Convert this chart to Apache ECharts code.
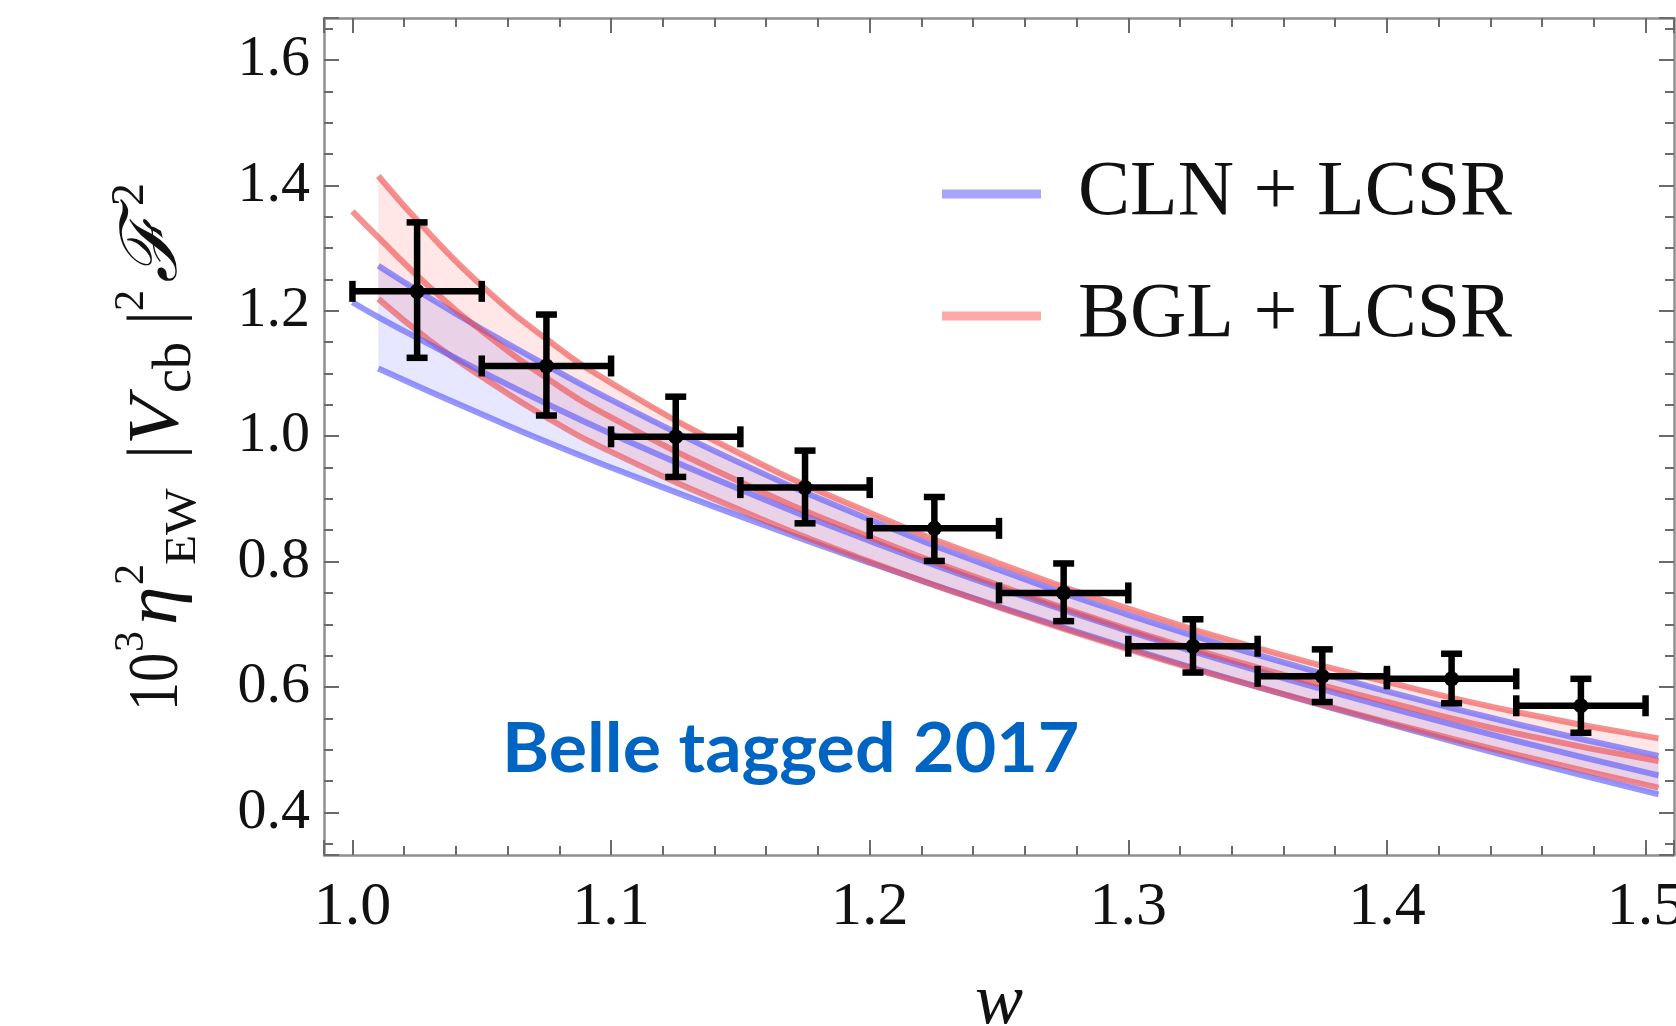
<!DOCTYPE html>
<html>
<head>
<meta charset="utf-8">
<script src="https://cdn.jsdelivr.net/npm/echarts@6/dist/echarts.min.js"></script>
<style>
  html, body { margin: 0; padding: 0; background: #ffffff; }
  #chart { width: 1676px; height: 1026px; }
</style>
</head>
<body>
<div id="chart"></div>
<script>
// Belle tagged 2017: binned measurement, bins of width 0.05 in w
const binEdges   = [1.00, 1.05, 1.10, 1.15, 1.20, 1.25, 1.30, 1.35, 1.40, 1.45, 1.50];
const dataValues = [1.231, 1.112, 0.999, 0.918, 0.853, 0.750, 0.665, 0.617, 0.613, 0.570];
const dataUpper  = [1.341, 1.194, 1.063, 0.977, 0.903, 0.797, 0.708, 0.660, 0.653, 0.613];
const dataLower  = [1.125, 1.033, 0.935, 0.861, 0.801, 0.705, 0.623, 0.576, 0.574, 0.527];

// Fit bands (upper / lower edges) and central curves, sampled in w
const bandW    = [1.01, 1.03, 1.05, 1.075, 1.10, 1.15, 1.20, 1.25, 1.30, 1.35, 1.40, 1.45, 1.505];
const centralW = [1.00, 1.01, 1.03, 1.05, 1.075, 1.10, 1.15, 1.20, 1.25, 1.30, 1.35, 1.40, 1.45, 1.505];

const clnUpper   = [1.272, 1.220, 1.171, 1.113, 1.058, 0.957, 0.867, 0.787, 0.715, 0.651, 0.593, 0.541, 0.490];
const clnLower   = [1.108, 1.071, 1.035, 0.991, 0.950, 0.872, 0.798, 0.728, 0.662, 0.600, 0.542, 0.486, 0.4288];
const clnCentral = [1.2137, 1.190, 1.146, 1.103, 1.052, 1.004, 0.915, 0.833, 0.758, 0.689, 0.626, 0.568, 0.514, 0.459];

const bglUpper   = [1.415, 1.322, 1.240, 1.155, 1.085, 0.972, 0.878, 0.797, 0.725, 0.662, 0.608, 0.560, 0.518];
const bglLower   = [1.219, 1.152, 1.095, 1.030, 0.975, 0.882, 0.800, 0.727, 0.660, 0.600, 0.544, 0.492, 0.4395];
const bglCentral = [1.3585, 1.317, 1.237, 1.168, 1.093, 1.030, 0.927, 0.839, 0.762, 0.692, 0.631, 0.576, 0.526, 0.482];

const seriesNames = ['CLN + LCSR', 'BGL + LCSR'];
const annotation = 'Belle tagged 2017';

// ---- styling ----
const SERIF = '"Liberation Serif", "DejaVu Serif", serif';
const blueLine = 'rgba(95, 95, 250, 0.66)';
const redLine  = 'rgba(238, 72, 72, 0.60)';
const blueFill = 'rgba(40, 40, 255, 0.11)';
const redFill  = 'rgba(255, 40, 40, 0.11)';
const frameColor = '#8f8f8f';
const tickColor = '#6a6a6a';
const LW = 6;

const pairs = (xs, ys) => xs.map((x, i) => [x, ys[i]]);
const triples = (xs, lo, hi) => xs.map((x, i) => [x, lo[i], hi[i]]);

const errData = dataValues.map((v, i) => [
  (binEdges[i] + binEdges[i + 1]) / 2, v, dataLower[i], dataUpper[i], binEdges[i], binEdges[i + 1]
]);

function renderErrorBar(params, api) {
  const w = api.value(0), v = api.value(1), lo = api.value(2), hi = api.value(3);
  const a = api.value(4), b = api.value(5);
  const c = api.coord([w, v]);
  const pLo = api.coord([w, lo]);
  const pHi = api.coord([w, hi]);
  const pA = api.coord([a, v]);
  const pB = api.coord([b, v]);
  const cap = 10.5;
  const st = { stroke: '#000', lineWidth: 6.5 };
  return {
    type: 'group',
    children: [
      { type: 'line', shape: { x1: pA[0], y1: c[1], x2: pB[0], y2: c[1] }, style: st },
      { type: 'line', shape: { x1: c[0], y1: pHi[1], x2: c[0], y2: pLo[1] }, style: st },
      { type: 'line', shape: { x1: pA[0], y1: c[1] - cap, x2: pA[0], y2: c[1] + cap }, style: st },
      { type: 'line', shape: { x1: pB[0], y1: c[1] - cap, x2: pB[0], y2: c[1] + cap }, style: st },
      { type: 'line', shape: { x1: c[0] - cap, y1: pHi[1], x2: c[0] + cap, y2: pHi[1] }, style: st },
      { type: 'line', shape: { x1: c[0] - cap, y1: pLo[1], x2: c[0] + cap, y2: pLo[1] }, style: st },
      { type: 'circle', shape: { cx: c[0], cy: c[1], r: 7.5 }, style: { fill: '#000' } }
    ]
  };
}

// filled region between lower (dim 1) and upper (dim 2) edges of a band
function bandRenderer(fill) {
  return function (params, api) {
    if (params.dataIndexInside !== 0) return null;
    const n = params.dataInsideLength;
    const up = [], lo = [];
    for (let j = 0; j < n; j++) {
      const w = api.value(0, j);
      lo.push(api.coord([w, api.value(1, j)]));
      up.push(api.coord([w, api.value(2, j)]));
    }
    return {
      type: 'polygon',
      shape: { points: up.concat(lo.reverse()) },
      style: { fill: fill }
    };
  };
}

const X_MIN = 0.989, X_MAX = 1.511;
const Y_MIN = 0.332, Y_MAX = 1.667;

function xAxisCfg(pos, showLabels) {
  return {
    type: 'value', position: pos, min: X_MIN, max: X_MAX, splitNumber: 5,
    axisLine: { show: true, onZero: false, lineStyle: { color: frameColor, width: 2.5 } },
    axisTick: { show: true, inside: true, length: 15, lineStyle: { color: tickColor, width: 2 } },
    minorTick: { show: true, splitNumber: 5, length: 9, lineStyle: { color: tickColor, width: 2 } },
    splitLine: { show: false },
    axisLabel: {
      show: showLabels, showMinLabel: false, showMaxLabel: false, margin: 22,
      fontFamily: SERIF, fontSize: 62, color: '#111',
      formatter: v => v.toFixed(1)
    },
    name: showLabels ? 'w' : '', nameLocation: 'middle', nameGap: 113,
    nameTextStyle: { fontFamily: SERIF, fontStyle: 'italic', fontSize: 72, color: '#111' }
  };
}

function yAxisCfg(pos, showLabels) {
  return {
    type: 'value', position: pos, min: Y_MIN, max: Y_MAX, splitNumber: 7,
    axisLine: { show: true, onZero: false, lineStyle: { color: frameColor, width: 2.5 } },
    axisTick: { show: true, inside: true, length: 15, lineStyle: { color: tickColor, width: 2 } },
    minorTick: { show: true, splitNumber: 4, length: 9, lineStyle: { color: tickColor, width: 2 } },
    splitLine: { show: false },
    axisLabel: {
      show: showLabels, showMinLabel: false, showMaxLabel: false, margin: 14,
      fontFamily: SERIF, fontSize: 58, color: '#111',
      formatter: v => v.toFixed(1)
    }
  };
}

// y-axis title, composed of pieces so the super/subscripts can stack.
// x runs along the text, base is the baseline shift (negative = raised).
const titlePieces = [
  { t: '10',     x: 0,   fs: 71, base: 0,   sx: 0.82 },
  { t: '3',      x: 59,  fs: 42, base: -36, sx: 1.0 },
  { t: '\u03B7', x: 86,  fs: 74, base: 0,   sx: 1.05, it: true },
  { t: '2',      x: 126, fs: 42, base: -36, sx: 1.0 },
  { t: 'EW',     x: 146, fs: 44, base: 16,  sx: 1.12 },
  { t: '|',      x: 252, fs: 71, base: 0,   sx: 1.0 },
  { t: 'V',      x: 266, fs: 71, base: 0,   sx: 1.12, it: true },
  { t: 'cb',     x: 318, fs: 54, base: 12,  sx: 1.0 },
  { t: '|',      x: 386, fs: 71, base: 0,   sx: 1.0 },
  { t: '2',      x: 400, fs: 42, base: -36, sx: 1.0 },
  { t: '\u2131', x: 428, fs: 78, base: 0,   sx: 1.05, fam: '"DejaVu Serif", serif', it: true },
  { t: '2',      x: 505, fs: 46, base: -36, sx: 1.0 }
];
const titleChildren = titlePieces.map(p => ({
  type: 'text', x: p.x, y: p.base - 0.3375 * p.fs, scaleX: p.sx,
  style: {
    text: p.t, fill: '#111', align: 'left', verticalAlign: 'middle',
    font: (p.it ? 'italic ' : '') + p.fs + 'px ' + (p.fam || SERIF)
  }
}));

const chart = echarts.init(document.getElementById('chart'), null, { renderer: 'canvas' });

chart.setOption({
  backgroundColor: '#ffffff',
  animation: false,
  grid: { left: 324, right: 2, top: 18, bottom: 171, containLabel: false, outerBoundsMode: 'none' },
  xAxis: [xAxisCfg('bottom', true), xAxisCfg('top', false)],
  yAxis: [yAxisCfg('left', true), yAxisCfg('right', false)],
  legend: {
    orient: 'vertical', left: 942, top: 154, padding: 0,
    itemWidth: 99, itemHeight: 9, itemGap: 42, icon: 'rect', selectedMode: false,
    data: seriesNames,
    textStyle: { fontFamily: SERIF, fontSize: 78, color: '#111', lineHeight: 80, padding: [0, 0, 0, 32] }
  },
  graphic: [
    {
      type: 'text', x: 502, y: 716, scaleX: 1.055, z: 50,
      style: { text: annotation, font: 'bold 68px Lato, "Noto Sans", sans-serif', fill: '#0064C3' }
    },
    {
      type: 'group', x: 182, y: 711, rotation: Math.PI / 2, z: 50,
      children: titleChildren
    }
  ],
  series: [
    // CLN + LCSR band
    {
      name: 'cln-band', type: 'custom', renderItem: bandRenderer(blueFill), silent: true,
      data: triples(bandW, clnLower, clnUpper), encode: { x: 0, y: [1, 2] }, z: 1
    },
    {
      name: 'cln-upper', type: 'line', smooth: true, showSymbol: false, silent: true,
      data: pairs(bandW, clnUpper), lineStyle: { color: blueLine, width: LW }, z: 2
    },
    {
      name: 'cln-lower', type: 'line', smooth: true, showSymbol: false, silent: true,
      data: pairs(bandW, clnLower), lineStyle: { color: blueLine, width: LW }, z: 2
    },
    // BGL + LCSR band
    {
      name: 'bgl-band', type: 'custom', renderItem: bandRenderer(redFill), silent: true,
      data: triples(bandW, bglLower, bglUpper), encode: { x: 0, y: [1, 2] }, z: 1
    },
    {
      name: 'bgl-upper', type: 'line', smooth: true, showSymbol: false, silent: true,
      data: pairs(bandW, bglUpper), lineStyle: { color: redLine, width: LW }, z: 3
    },
    {
      name: 'bgl-lower', type: 'line', smooth: true, showSymbol: false, silent: true,
      data: pairs(bandW, bglLower), lineStyle: { color: redLine, width: LW }, z: 3
    },
    // central curves (also carry the legend entries)
    {
      name: seriesNames[0], type: 'line', smooth: true, showSymbol: false, silent: true,
      data: pairs(centralW, clnCentral), itemStyle: { color: '#A5A5FF' },
      lineStyle: { color: blueLine, width: LW }, z: 4
    },
    {
      name: seriesNames[1], type: 'line', smooth: true, showSymbol: false, silent: true,
      data: pairs(centralW, bglCentral), itemStyle: { color: '#FFA8A8' },
      lineStyle: { color: redLine, width: LW }, z: 4
    },
    // measurement with error bars
    {
      name: 'data', type: 'custom', renderItem: renderErrorBar, data: errData, silent: true,
      encode: { x: [0, 4, 5], y: [1, 2, 3] }, z: 10
    }
  ]
});
</script>
</body>
</html>
